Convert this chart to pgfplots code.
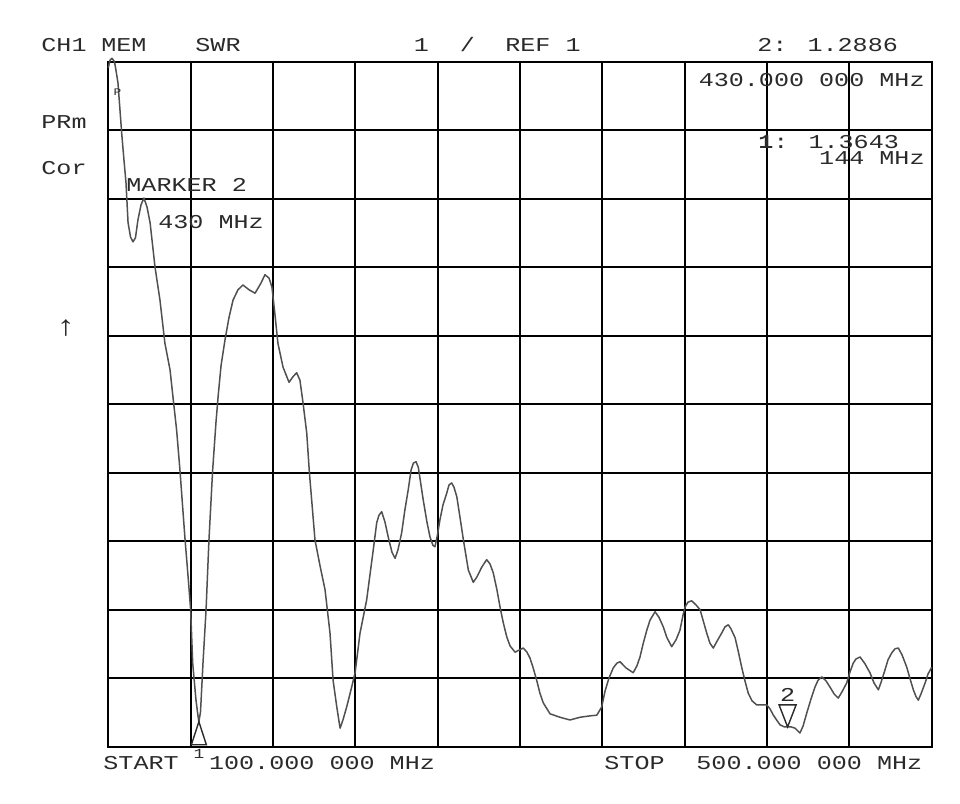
\documentclass[border=0pt]{standalone}
\usepackage{pgfplots}
\pgfplotsset{compat=1.18}
\usepackage{fontspec}
\setmainfont{Liberation Mono}[FakeStretch=1.28]
\definecolor{ink}{HTML}{2A2A2A}
\definecolor{trace}{HTML}{505050}

% marker symbols of the analyser: tip sits on the trace value
\pgfdeclareplotmark{mkdown}{%
  \pgfpathmoveto{\pgfpoint{0pt}{0pt}}%
  \pgfpathlineto{\pgfpoint{-4.25pt}{11pt}}%
  \pgfpathlineto{\pgfpoint{4.25pt}{11pt}}%
  \pgfpathclose\pgfusepathqstroke}
\pgfdeclareplotmark{mkup}{%
  \pgfpathmoveto{\pgfpoint{0pt}{0pt}}%
  \pgfpathlineto{\pgfpoint{-3.75pt}{-11.5pt}}%
  \pgfpathlineto{\pgfpoint{3.75pt}{-11.5pt}}%
  \pgfpathclose\pgfusepathqstroke}

\begin{document}
\begin{tikzpicture}[font=\fontsize{9.8}{10}\selectfont]
\begin{axis}[
    at={(0,0)}, anchor=south west,
    scale only axis,
    width=411.7pt, height=342.5pt,
    xmin=100, xmax=500, ymin=1, ymax=11,
    xtick={100,140,180,220,260,300,340,380,420,460,500},
    ytick={1,2,3,4,5,6,7,8,9,10,11},
    xticklabels={}, yticklabels={},
    major tick length=0pt,
    grid=major,
    major grid style={black, line width=1pt},
    axis line style={black, line width=1.1pt},
    clip=false,
    nodes={text=ink, inner sep=0pt},
]

% SWR trace, 100 - 500 MHz
\addplot[trace, line width=0.75pt, line join=round] coordinates {
(100.0,10.91) (100.8,11.02) (101.8,11.05) (103.0,11.00) (103.7,10.88)
(104.7,10.69) (106.5,9.96) (107.6,9.57) (108.6,9.23) (109.6,8.65)
(110.8,8.44) (112.0,8.37) (113.2,8.43) (114.4,8.69) (115.9,8.91)
(117.3,9.01) (118.8,8.88) (120.3,8.65) (122.7,8.00) (125.1,7.52)
(127.5,6.89) (130.0,6.50) (131.4,6.11) (133.2,5.62) (134.8,5.04)
(137.3,4.02) (138.9,3.43) (140.0,3.00) (141.0,2.22) (142.6,1.68)
(143.4,1.49) (144.0,1.36) (144.8,1.51) (146.0,2.22) (147.5,3.00)
(148.9,4.02) (150.7,5.04) (152.3,5.73) (153.4,6.13) (154.8,6.57)
(156.7,6.94) (158.6,7.26) (160.6,7.52) (163.0,7.67) (165.4,7.74)
(168.4,7.67) (171.3,7.62) (174.2,7.77) (176.1,7.89) (178.1,7.84)
(179.5,7.71) (181.0,7.30) (182.4,6.89) (184.9,6.54) (187.8,6.32)
(189.7,6.40) (191.5,6.46) (193.1,6.35) (194.6,6.02) (196.4,5.58)
(197.7,5.00) (200.4,4.02) (202.8,3.65) (205.3,3.29) (207.7,2.66)
(209.2,1.97) (211.0,1.58) (212.6,1.27) (214.0,1.39) (215.8,1.58)
(217.9,1.83) (219.9,2.08) (222.3,2.66) (225.5,3.14) (228.7,3.87)
(230.4,4.27) (231.5,4.38) (232.8,4.43) (234.4,4.28) (236.0,4.06)
(237.8,3.84) (239.3,3.75) (240.7,3.87) (242.5,4.12) (244.1,4.46)
(245.7,4.75) (247.1,5.04) (248.2,5.14) (249.5,5.16) (250.6,5.08)
(251.9,4.82) (253.0,4.60) (254.8,4.28) (256.3,4.06) (257.7,3.94)
(258.7,3.92) (259.9,4.09) (261.1,4.31) (262.6,4.53) (264.4,4.70)
(265.5,4.82) (266.8,4.85) (267.9,4.79) (269.3,4.65) (270.9,4.34)
(272.5,4.02) (274.9,3.58) (277.3,3.40) (279.1,3.48) (281.4,3.62)
(283.8,3.73) (285.4,3.67) (287.0,3.54) (288.8,3.29) (290.3,3.04)
(291.8,2.82) (293.6,2.60) (295.2,2.47) (297.6,2.38) (299.5,2.41)
(301.6,2.44) (303.4,2.38) (304.9,2.29) (306.3,2.16) (308.1,1.97)
(309.7,1.78) (311.3,1.64) (314.6,1.48) (319.4,1.43) (324.3,1.39)
(329.2,1.43) (334.0,1.45) (337.3,1.46) (339.7,1.58) (341.3,1.81)
(343.2,2.00) (345.3,2.15) (347.1,2.22) (348.6,2.24) (351.5,2.15)
(355.0,2.08) (356.8,2.18) (358.3,2.31) (359.8,2.50) (361.6,2.70)
(363.2,2.85) (365.6,2.97) (367.5,2.89) (369.6,2.75) (371.4,2.59)
(373.7,2.46) (375.8,2.56) (377.7,2.70) (379.2,2.92) (380.2,3.04)
(381.6,3.11) (383.4,3.13) (385.5,3.07) (387.5,3.00) (388.9,2.85)
(390.7,2.66) (392.3,2.51) (393.9,2.44) (395.7,2.54) (398.0,2.66)
(399.6,2.75) (401.2,2.78) (402.5,2.72) (404.5,2.59) (405.9,2.41)
(407.7,2.16) (409.3,1.96) (410.9,1.78) (412.7,1.67) (415.0,1.61)
(417.6,1.61) (419.9,1.61) (421.5,1.55) (423.1,1.46) (424.9,1.38)
(426.3,1.32) (428.3,1.29) (430.0,1.29) (431.7,1.29) (433.6,1.27)
(436.0,1.20) (437.5,1.30) (439.3,1.49) (441.4,1.70) (443.3,1.87)
(444.8,1.97) (446.6,2.02) (448.7,1.96) (450.6,1.87) (452.6,1.77)
(454.6,1.71) (456.4,1.80) (458.7,1.93) (460.3,2.09) (461.9,2.22)
(463.2,2.28) (465.2,2.31) (467.6,2.21) (470.0,2.08) (472.0,1.93)
(474.1,1.83) (475.4,1.94) (477.3,2.12) (478.8,2.27) (480.6,2.37)
(482.2,2.43) (483.8,2.44) (485.6,2.34) (487.9,2.16) (489.5,1.99)
(491.1,1.83) (492.4,1.73) (493.5,1.68) (494.8,1.77) (496.8,1.93)
(498.2,2.06) (500.0,2.16)
};

% markers 1 (144 MHz) and 2 (430 MHz)
\addplot[only marks, ink, mark=mkup, mark options={line width=0.7pt}] coordinates {(144,1.3643)};
\addplot[only marks, ink, mark=mkdown, mark options={line width=0.7pt}] coordinates {(430,1.2886)};

% header line
\node[anchor=base west] at (axis cs:67.31,11.142) {CH1};
\node[anchor=base west] at (axis cs:96.45,11.142) {MEM};
\node[anchor=base west] at (axis cs:142.12,11.142) {SWR};
\node[anchor=base west] at (axis cs:248.27,11.142) {1};
\node[anchor=base west] at (axis cs:270.61,11.142) {/};
\node[anchor=base west] at (axis cs:292.71,11.142) {REF 1};
\node[anchor=base west] at (axis cs:415.13,11.142) {2: 1.2886};
\node[anchor=base east] at (axis cs:496.75,10.631) {430.000 000 MHz};
\node[anchor=base west] at (axis cs:415.62,9.740) {\textbf{1}: 1.3643};
\node[anchor=base east] at (axis cs:496.75,9.492) {144 MHz};

% left side annotations
\node[anchor=base west] at (axis cs:67.31,10.032) {PRm};
\node[anchor=base west] at (axis cs:67.31,9.346) {Cor};
\node at (axis cs:79.45,7.112) {\fontsize{14}{14}\selectfont ↑};
\node[anchor=base west] at (axis cs:108.60,9.112) {MARKER 2};
\node[anchor=base west] at (axis cs:124.14,8.572) {430 MHz};
\node at (axis cs:104.4,10.55) {\fontsize{5}{5}\selectfont P};

% marker labels
\node at (axis cs:430,1.755) {2};
\node at (axis cs:144.06,0.90) {\fontsize{7}{7}\selectfont 1};

% footer line
\node[anchor=base west] at (axis cs:97.43,0.660) {START};
\node[anchor=base west] at (axis cs:148.77,0.660) {100.000 000 MHz};
\node[anchor=base west] at (axis cs:340.81,0.660) {STOP};
\node[anchor=base west] at (axis cs:385.51,0.660) {500.000 000 MHz};
\end{axis}
\pgfresetboundingbox
\path (current axis.south west) ++(-54.15pt,-28.65pt) rectangle ++(480pt,402pt);
\end{tikzpicture}
\end{document}
